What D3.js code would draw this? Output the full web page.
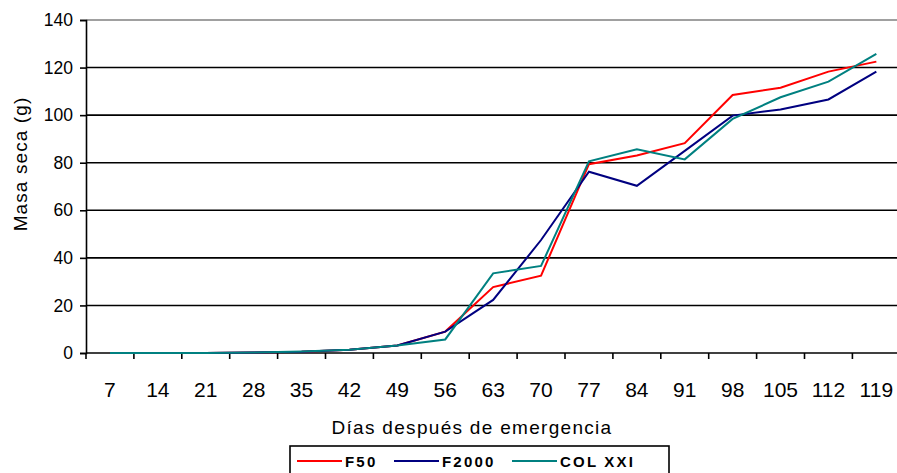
<!DOCTYPE html>
<html>
<head>
<meta charset="utf-8">
<script src="https://cdn.jsdelivr.net/npm/d3@7"></script>
<style>
	body { margin: 0; background: #fff; }
	text { font-family: "Liberation Sans", Arial, sans-serif; fill: #000; }
</style>
</head>
<body>
<div id="chart"></div>
<script>
// data
const days = ["7", "14", "21", "28", "35", "42", "49", "56", "63", "70", "77", "84", "91", "98", "105", "112", "119"]
const f50 = [0, 0, 0, 0.2, 0.5, 1.4, 3.2, 9, 27.7, 32.5, 79.4, 83, 88.2, 108.5, 111.5, 118.3, 122.5]
const f2000 = [0, 0, 0, 0.2, 0.5, 1.4, 3.2, 9, 22.3, 47.5, 76.2, 70.3, 85, 99.8, 102.4, 106.6, 118.3]
const colXXI = [0, 0, 0, 0.2, 0.6, 1.4, 3.2, 5.7, 33.5, 36.6, 80.6, 85.6, 81.4, 98.4, 107.5, 114.1, 125.8]
const yTicks = [0, 20, 40, 60, 80, 100, 120, 140]

const seriesNames = ["F50", "F2000", "COL XXI"]
const seriesColors = ["#ff0000", "#000080", "#008080"]
const series = [f50, f2000, colXXI]

const svgWidth = 897
const svgHeight = 473

let margin = { top: 20, left: 86, bottom: 120 }

let svg = d3.select("#chart")
	.append("svg")
	.attr("width", svgWidth)
	.attr("height", svgHeight)

// scales
let x = d3.scaleBand()
	.domain(days)
	.range([margin.left, margin.left + 47.9 * days.length])
	.padding(0)

let y = d3.scaleLinear()
	.domain([0, 140])
	.range([353, margin.top])

// horizontal gridlines
svg.append("g")
	.selectAll("line")
	.data(yTicks.filter(d => d > 0))
	.enter()
	.append("line")
	.attr("x1", margin.left)
	.attr("x2", svgWidth)
	.attr("y1", d => y(d))
	.attr("y2", d => y(d))
	.attr("stroke", d => d === 140 ? "#808080" : "#000")
	.attr("stroke-width", 1.6)

// y axis
let yAxis = svg.append("g")
	.attr("transform", `translate(${margin.left}, 0)`)
	.call(d3.axisLeft(y).tickValues(yTicks).tickSize(6).tickPadding(7))
yAxis.select(".domain").attr("stroke-width", 1.6)
yAxis.selectAll(".tick line").attr("stroke-width", 1.6)
yAxis.selectAll(".tick text")
	.style("font-size", "17.5px")
	.attr("fill", "#000")

// x axis line
svg.append("line")
	.attr("x1", margin.left)
	.attr("x2", svgWidth)
	.attr("y1", y(0))
	.attr("y2", y(0))
	.attr("stroke", "#000")
	.attr("stroke-width", 1.6)

// x ticks between categories
svg.append("g")
	.selectAll("line")
	.data(days)
	.enter()
	.append("line")
	.attr("x1", d => x(d))
	.attr("x2", d => x(d))
	.attr("y1", y(0))
	.attr("y2", y(0) + 6)
	.attr("stroke", "#000")
	.attr("stroke-width", 1.6)

// x labels
svg.append("g")
	.selectAll("text")
	.data(days)
	.enter()
	.append("text")
	.attr("x", d => x(d) + x.bandwidth() / 2)
	.attr("y", 397)
	.attr("text-anchor", "middle")
	.style("font-size", "21px")
	.text(d => d)

// lines
let line = d3.line()
	.x((d, i) => x(days[i]) + x.bandwidth() / 2)
	.y(d => y(d))

svg.append("g")
	.selectAll("path")
	.data(series)
	.enter()
	.append("path")
	.attr("d", d => line(d))
	.attr("fill", "none")
	.attr("stroke", (d, i) => seriesColors[i])
	.attr("stroke-width", 2)

// axis titles
svg.append("text")
	.attr("x", 472)
	.attr("y", 434)
	.attr("text-anchor", "middle")
	.style("font-size", "19px")
	.style("letter-spacing", "1.3px")
	.text("Días después de emergencia")

svg.append("text")
	.attr("transform", "translate(27, 164) rotate(-90)")
	.attr("text-anchor", "middle")
	.style("font-size", "19px")
	.style("letter-spacing", "1.1px")
	.text("Masa seca (g)")

// legend
let legend = svg.append("g")

legend.append("rect")
	.attr("x", 290)
	.attr("y", 446)
	.attr("width", 379)
	.attr("height", 40)
	.attr("fill", "#fff")
	.attr("stroke", "#000")
	.attr("stroke-width", 1.6)

const legendX = [297, 394, 512]

seriesNames.forEach((name, i) => {
	legend.append("line")
		.attr("x1", legendX[i])
		.attr("x2", legendX[i] + 45)
		.attr("y1", 461)
		.attr("y2", 461)
		.attr("stroke", seriesColors[i])
		.attr("stroke-width", 2)
	legend.append("text")
		.attr("x", legendX[i] + 48)
		.attr("y", 466.5)
		.style("font-size", "15px")
		.style("font-weight", "bold")
		.style("letter-spacing", "2.2px")
		.text(name)
})
</script>
</body>
</html>
